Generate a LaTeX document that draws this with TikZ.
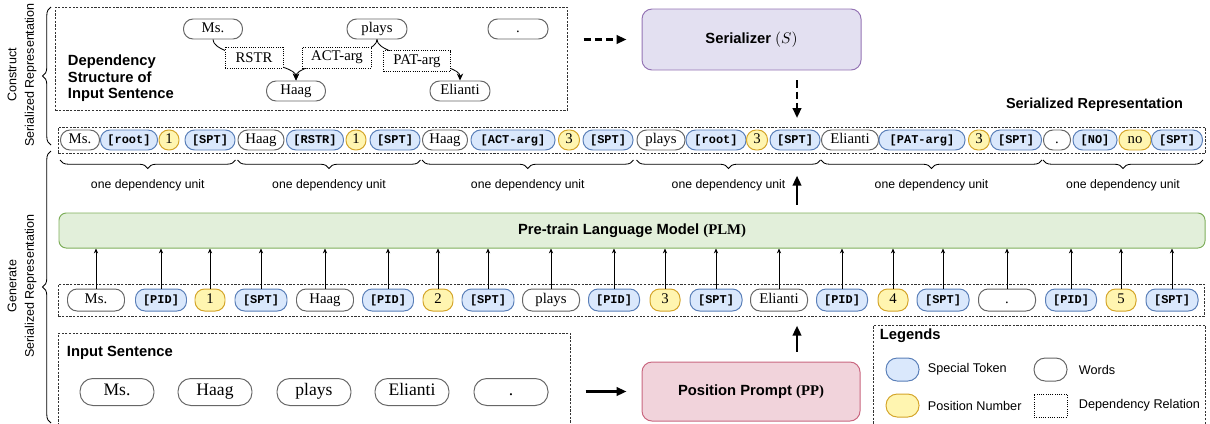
\documentclass[tikz,border=0pt]{standalone}
\usepackage{fontspec}
\setmainfont{Liberation Serif}
\setsansfont{Liberation Sans}
\setmonofont{Liberation Mono}
\usetikzlibrary{arrows.meta,decorations.pathreplacing}

\definecolor{tokfill}{HTML}{DAE8FC}
\definecolor{tokdraw}{HTML}{5A7FB8}
\definecolor{numfill}{HTML}{FFF5B0}
\definecolor{numdraw}{HTML}{D4A52A}
\definecolor{worddraw}{HTML}{666666}
\definecolor{plmfill}{HTML}{E2EFDA}
\definecolor{plmdraw}{HTML}{7FAF5C}
\definecolor{serfill}{HTML}{E3E0F1}
\definecolor{serdraw}{HTML}{9474B4}
\definecolor{ppfill}{HTML}{F1D3DB}
\definecolor{ppdraw}{HTML}{C9667F}

\tikzset{
  wd/.style={minimum width=#1*0.25mm},
  ht/.style={minimum height=#1*0.25mm},
  tok/.style={rounded corners=2.4mm, inner sep=0pt, ht=20, line width=0.7pt, text height=0.68em, text depth=0.2em},
  word/.style={tok, draw=worddraw, fill=white, font=\fontsize{10.5}{12}\selectfont},
  inword/.style={word, ht=27, rounded corners=3.2mm, font=\fontsize{12.5}{14}\selectfont},
  spec/.style={tok, draw=tokdraw, fill=tokfill, font=\ttfamily\bfseries\fontsize{8.5}{10}\selectfont},
  num/.style={tok, draw=numdraw, fill=numfill, font=\fontsize{10.5}{12}\selectfont},
  rel/.style={draw, densely dotted, fill=white, inner sep=0pt, ht=21, line width=0.6pt, font=\fontsize{10.5}{12}\selectfont},
  frame/.style={draw=black!80, dash pattern=on 1.6pt off 1pt, line width=0.5pt, anchor=north west, inner sep=0pt},
  title/.style={font=\sffamily\bfseries\fontsize{10.5}{13}\selectfont},
  side/.style={rotate=90, align=center, font=\sffamily\fontsize{8.9}{12.5}\selectfont},
  sidebrace/.style={decorate, decoration={brace, amplitude=6pt}, line width=0.6pt},
  unitbrace/.style={decorate, decoration={brace, mirror, amplitude=6pt}, line width=0.6pt},
  unitlab/.style={below=3.75mm, font=\sffamily\fontsize{8.7}{10}\selectfont},
  feed/.style={-{Stealth[length=3.5pt, width=3pt]}, line width=0.5pt},
  deparrow/.style={-{Stealth[length=5pt, width=4.5pt]}, line width=0.6pt},
  bigarrow/.style={-{Triangle[length=7pt, width=6pt]}, line width=1.6pt},
  dasharrow/.style={bigarrow, dash pattern=on 5pt off 3pt},
  legtext/.style={anchor=west, font=\sffamily\fontsize{9}{11}\selectfont},
}

\begin{document}
\begin{tikzpicture}[x=0.25mm, y=-0.25mm]

    % 画布大小
    \useasboundingbox (0,0) rectangle (1210,423);

    % 左侧说明和大括号
    \node[side] (cons) at (22,75) {Construct\\Serialized Representation};
    \node[side] (gen) at (22,286) {Generate\\Serialized Representation};
    \draw[sidebrace] (51,145) -- (51,7);
    \draw[sidebrace] (51,423) -- (51,151);

    % 依存结构框
    \node[frame, wd=512, ht=103] (depbox) at (55,7) {};
    \node[anchor=west, align=left, font=\sffamily\bfseries\fontsize{10.5}{11.7}\selectfont] (deptitle) at (63,78.5) {Dependency\\Structure of\\Input Sentence};

    % 依存结构中的词
    \node[word, wd=59] (dms) at (213,29) {Ms.};
    \node[word, wd=60] (dplays) at (377,29) {plays};
    \node[word, wd=60] (ddot) at (518,29) {.};
    \node[word, wd=59] (dhaag) at (296,91) {Haag};
    \node[word, wd=60] (deli) at (460,91) {Elianti};

    % 依存关系
    \draw[deparrow] (dms.south) .. controls +(0,18) and +(0,-18) .. (dhaag.north);
    \draw[deparrow] (dplays.south) .. controls +(0,18) and +(0,-18) .. (dhaag.north);
    \draw[deparrow] (dplays.south) .. controls +(0,18) and +(0,-18) .. (deli.north);
    \node[rel, wd=58] (rstr) at (254,57.5) {RSTR};
    \node[rel, wd=69] (actarg) at (337,57.5) {ACT-arg};
    \node[rel, wd=67] (patarg) at (417,61) {PAT-arg};

    % 序列化器
    \node[draw=serdraw, fill=serfill, rounded corners=2.5mm, wd=219, ht=61, line width=0.7pt, title] (ser) at (751.5,39.5) {Serializer $(S)$};
    \coordinate (mid) at (797,0);
    \draw[dasharrow, shorten <=4mm, shorten >=3.75mm] (depbox.east |- ser.west) -- (ser.west);

    % 序列化表示
    \node[frame, wd=1147, ht=26] (serrow) at (58,127) {};
    \node[title, anchor=east, font=\sffamily\bfseries\fontsize{10.3}{12}\selectfont] (serlab) at (1188,105) {Serialized Representation};
    \draw[dasharrow, shorten <=2.5mm, shorten >=2.25mm] (ser.south -| mid) -- (serrow.north -| mid);

    \node[word, wd=39] (s1) at (80,140) {Ms.};
    \node[spec, wd=57] (s2) at (129,140) {[root]};
    \node[num, wd=20] (s3) at (169,140) {1};
    \node[spec, wd=50] (s4) at (210,140) {[SPT]};
    \node[word, wd=46] (s5) at (261,140) {Haag};
    \node[spec, wd=57] (s6) at (315,140) {[RSTR]};
    \node[num, wd=20] (s7) at (356,140) {1};
    \node[spec, wd=50] (s8) at (395,140) {[SPT]};
    \node[word, wd=45] (s9) at (445,140) {Haag};
    \node[spec, wd=84] (s10) at (513,140) {[ACT-arg]};
    \node[num, wd=21] (s11) at (569,140) {3};
    \node[spec, wd=50] (s12) at (608,140) {[SPT]};
    \node[word, wd=48] (s13) at (661,140) {plays};
    \node[spec, wd=60] (s14) at (716,140) {[root]};
    \node[num, wd=21] (s15) at (757,140) {3};
    \node[spec, wd=50] (s16) at (795,140) {[SPT]};
    \node[word, wd=57] (s17) at (850,140) {Elianti};
    \node[spec, wd=86] (s18) at (922,140) {[PAT-arg]};
    \node[num, wd=21] (s19) at (979,140) {3};
    \node[spec, wd=51] (s20) at (1016,140) {[SPT]};
    \node[word, wd=27] (s21) at (1057,140) {.};
    \node[spec, wd=44] (s22) at (1095,140) {[NO]};
    \node[num, wd=32] (s23) at (1135,140) {no};
    \node[spec, wd=51] (s24) at (1177,140) {[SPT]};

    % 依存单元
    \coordinate (ubr) at (0,160);
    \draw[unitbrace] (s1.west |- ubr) -- (s4.east |- ubr) node[unitlab, midway] (u1) {one dependency unit};
    \draw[unitbrace] (s5.west |- ubr) -- (s8.east |- ubr) node[unitlab, midway] (u2) {one dependency unit};
    \draw[unitbrace] (s9.west |- ubr) -- (s12.east |- ubr) node[unitlab, midway] (u3) {one dependency unit};
    \draw[unitbrace] (s13.west |- ubr) -- (s16.east |- ubr) node[unitlab, midway] (u4) {one dependency unit};
    \draw[unitbrace] (s17.west |- ubr) -- (s20.east |- ubr) node[unitlab, midway] (u5) {one dependency unit};
    \draw[unitbrace] (s21.west |- ubr) -- (s24.east |- ubr) node[unitlab, midway] (u6) {one dependency unit};

    % 预训练语言模型
    \node[draw=plmdraw, fill=plmfill, rounded corners=1.8mm, wd=1146, ht=35, line width=0.7pt, title] (plm) at (632,230.5) {Pre-train Language Model {\rmfamily(PLM)}};
    \draw[bigarrow, shorten <=2mm, shorten >=5.5mm] (plm.north -| mid) -- (serrow.south -| mid);

    % 输入序列
    \node[frame, wd=1146, ht=32] (botrow) at (58,284) {};
    \node[word, ht=22, wd=57] (b1) at (96,300) {Ms.};
    \node[spec, ht=22, wd=51] (b2) at (161,300) {[PID]};
    \node[num, ht=22, wd=30] (b3) at (210,300) {1};
    \node[spec, ht=22, wd=52] (b4) at (261,300) {[SPT]};
    \node[word, ht=22, wd=57] (b5) at (325,300) {Haag};
    \node[spec, ht=22, wd=51] (b6) at (388,300) {[PID]};
    \node[num, ht=22, wd=30] (b7) at (438,300) {2};
    \node[spec, ht=22, wd=52] (b8) at (488,300) {[SPT]};
    \node[word, ht=22, wd=57] (b9) at (551,300) {plays};
    \node[spec, ht=22, wd=51] (b10) at (614,300) {[PID]};
    \node[num, ht=22, wd=30] (b11) at (665,300) {3};
    \node[spec, ht=22, wd=52] (b12) at (716,300) {[SPT]};
    \node[word, ht=22, wd=57] (b13) at (779,300) {Elianti};
    \node[spec, ht=22, wd=51] (b14) at (842,300) {[PID]};
    \node[num, ht=22, wd=30] (b15) at (893,300) {4};
    \node[spec, ht=22, wd=52] (b16) at (943,300) {[SPT]};
    \node[word, ht=22, wd=57] (b17) at (1007,300) {.};
    \node[spec, ht=22, wd=51] (b18) at (1071,300) {[PID]};
    \node[num, ht=22, wd=30] (b19) at (1121,300) {5};
    \node[spec, ht=22, wd=52] (b20) at (1172,300) {[SPT]};

    % 输入到模型的箭头
    \draw[feed] (b1.north) -- (b1.north |- plm.south);
    \draw[feed] (b2.north) -- (b2.north |- plm.south);
    \draw[feed] (b3.north) -- (b3.north |- plm.south);
    \draw[feed] (b4.north) -- (b4.north |- plm.south);
    \draw[feed] (b5.north) -- (b5.north |- plm.south);
    \draw[feed] (b6.north) -- (b6.north |- plm.south);
    \draw[feed] (b7.north) -- (b7.north |- plm.south);
    \draw[feed] (b8.north) -- (b8.north |- plm.south);
    \draw[feed] (b9.north) -- (b9.north |- plm.south);
    \draw[feed] (b10.north) -- (b10.north |- plm.south);
    \draw[feed] (b11.north) -- (b11.north |- plm.south);
    \draw[feed] (b12.north) -- (b12.north |- plm.south);
    \draw[feed] (b13.north) -- (b13.north |- plm.south);
    \draw[feed] (b14.north) -- (b14.north |- plm.south);
    \draw[feed] (b15.north) -- (b15.north |- plm.south);
    \draw[feed] (b16.north) -- (b16.north |- plm.south);
    \draw[feed] (b17.north) -- (b17.north |- plm.south);
    \draw[feed] (b18.north) -- (b18.north |- plm.south);
    \draw[feed] (b19.north) -- (b19.north |- plm.south);
    \draw[feed] (b20.north) -- (b20.north |- plm.south);

    % 输入句子
    \node[frame, wd=512, ht=100] (inbox) at (58,333) {};
    \node[title, anchor=west] (intitle) at (62,353) {Input Sentence};
    \node[inword, wd=74] (i1) at (117,392) {Ms.};
    \node[inword, wd=74] (i2) at (215,392) {Haag};
    \node[inword, wd=74] (i3) at (314,392) {plays};
    \node[inword, wd=74] (i4) at (412,392) {Elianti};
    \node[inword, wd=74] (i5) at (511,392) {.};

    % 位置提示
    \node[draw=ppdraw, fill=ppfill, rounded corners=2.5mm, wd=218, ht=59, line width=0.7pt, title] (pp) at (751,391.5) {Position Prompt {\rmfamily(PP)}};
    \draw[bigarrow, shorten <=3.75mm, shorten >=3.75mm] (inbox.east |- pp.west) -- (pp.west);
    \draw[bigarrow, shorten <=2.5mm, shorten >=2.25mm] (pp.north -| mid) -- (botrow.south -| mid);

    % 图例
    \node[frame, wd=332, ht=110] (legbox) at (873,325) {};
    \node[title, anchor=west] (legtitle) at (875,336) {Legends};
    \node[spec, wd=33, ht=23, rounded corners=2.8mm] (lspec) at (902.5,369.5) {};
    \node[legtext] (lspectxt) at (923,369.5) {Special Token};
    \node[word, wd=33, ht=23, rounded corners=2.8mm] (lword) at (1050.5,369.5) {};
    \node[legtext] (lwordtxt) at (1074,369.5) {Words};
    \node[num, wd=33, ht=23, rounded corners=2.8mm] (lnum) at (902.5,405.5) {};
    \node[legtext] (lnumtxt) at (923,405.5) {Position Number};
    \node[rel, wd=33, ht=23] (lrel) at (1050.5,405.5) {};
    \node[legtext] (lreltxt) at (1074,405.5) {Dependency Relation};

\end{tikzpicture}
\end{document}
